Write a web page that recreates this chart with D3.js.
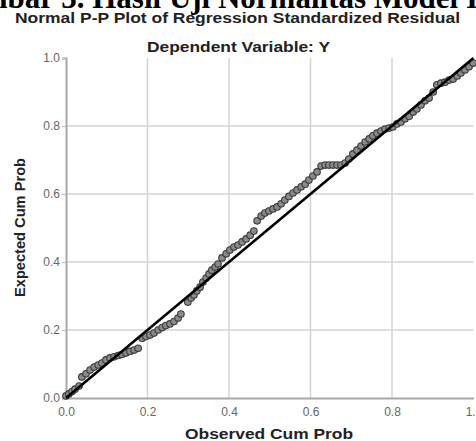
<!DOCTYPE html>
<html><head><meta charset="utf-8">
<script src="https://cdn.jsdelivr.net/npm/d3@7"></script>
<style>body{margin:0;background:#fff}svg{display:block}</style>
</head><body>
<script>
const heading = "Gambar 3. Hasil Uji Normalitas Model I";
const title = "Normal P-P Plot of Regression Standardized Residual";
const subtitle = "Dependent Variable: Y";
const xLabel = "Observed Cum Prob";
const yLabel = "Expected Cum Prob";
const ticks = [0, 0.2, 0.4, 0.6, 0.8, 1.0];
const observed = [0.000,0.007,0.015,0.022,0.032,0.039,0.049,0.059,0.069,0.079,0.088,0.098,0.108,0.118,0.128,0.137,0.147,0.157,0.167,0.177,
0.187,0.196,0.206,0.216,0.226,0.236,0.245,0.255,0.265,0.275,0.282,0.299,0.307,0.314,0.321,0.329,0.336,0.344,0.351,0.358,
0.366,0.373,0.383,0.393,0.402,0.412,0.422,0.432,0.442,0.452,0.461,0.469,0.479,0.488,0.498,0.508,0.518,0.528,0.537,0.547,
0.557,0.567,0.577,0.587,0.596,0.606,0.616,0.626,0.636,0.645,0.655,0.665,0.675,0.685,0.694,0.704,0.714,0.724,0.734,0.744,
0.753,0.763,0.773,0.783,0.793,0.802,0.812,0.822,0.832,0.842,0.852,0.861,0.871,0.881,0.891,0.901,0.910,0.920,0.930,0.940,
0.950,0.960,0.969,0.979,0.989,0.999];
const expected = [0.006,0.012,0.019,0.026,0.035,0.062,0.071,0.082,0.091,0.097,0.103,0.112,0.118,0.121,0.125,0.128,0.132,0.137,0.141,0.146,
0.176,0.181,0.185,0.191,0.200,0.207,0.213,0.218,0.225,0.235,0.247,0.282,0.294,0.303,0.315,0.326,0.341,0.353,0.365,0.376,
0.385,0.394,0.412,0.424,0.435,0.444,0.450,0.459,0.468,0.479,0.491,0.521,0.535,0.544,0.550,0.556,0.562,0.571,0.582,0.593,
0.603,0.612,0.621,0.629,0.641,0.653,0.665,0.682,0.685,0.685,0.685,0.685,0.685,0.691,0.703,0.718,0.729,0.741,0.753,0.762,
0.771,0.779,0.785,0.791,0.794,0.797,0.806,0.812,0.821,0.829,0.841,0.850,0.862,0.874,0.882,0.900,0.921,0.926,0.929,0.935,
0.938,0.947,0.956,0.965,0.974,0.985];
const refLine = [[0,0],[1,1]];

const W = 476, H = 441;
const svg = d3.select("body").append("svg").attr("width", W).attr("height", H);
const x = d3.scaleLinear().domain([0,1]).range([66, 473.5]);
const y = d3.scaleLinear().domain([0,1]).range([398, 58]);
const sans = "Liberation Sans, Arial, sans-serif";

// heading (cut off at top)
svg.append("text").attr("x", 478).attr("y", 8).attr("text-anchor","end")
  .attr("font-family","Liberation Serif, Times New Roman, serif").attr("font-weight","bold")
  .attr("font-size", 31).attr("fill","#000").text(heading);

svg.append("text").attr("x", 15).attr("y", 23)
  .attr("font-family",sans).attr("font-weight","bold")
  .attr("font-size", 14).attr("fill","#222")
  .attr("textLength", 445).attr("lengthAdjust","spacingAndGlyphs").text(title);

svg.append("text").attr("x", 147).attr("y", 52)
  .attr("font-family",sans).attr("font-weight","bold")
  .attr("font-size", 14).attr("fill","#222")
  .attr("textLength", 183).attr("lengthAdjust","spacingAndGlyphs").text(subtitle);

// grid
const g = svg.append("g");
g.selectAll("line.vx").data(ticks.filter(t=>t>0 && t<1)).join("line")
  .attr("x1", d=>x(d)).attr("x2", d=>x(d)).attr("y1", y(1)).attr("y2", y(0))
  .attr("stroke","#d4d4d4").attr("stroke-width",1.5);
g.selectAll("line.hy").data(ticks.filter(t=>t>0 && t<1)).join("line")
  .attr("class","hy")
  .attr("y1", d=>y(d)).attr("y2", d=>y(d)).attr("x1", x(0)).attr("x2", x(1))
  .attr("stroke","#d4d4d4").attr("stroke-width",1.5);

// axes
const xAxis = d3.axisBottom(x).tickValues(ticks).tickFormat(d3.format(".1f")).tickSize(0).tickPadding(9);
const yAxis = d3.axisLeft(y).tickValues(ticks).tickFormat(d3.format(".1f")).tickSize(4).tickPadding(2);
const xa = svg.append("g").attr("transform",`translate(0,${y(0)})`).call(xAxis);
const ya = svg.append("g").attr("transform",`translate(${x(0)},0)`).call(yAxis);
[xa, ya].forEach(a => {
  a.select(".domain").attr("stroke","#a8a8a8").attr("stroke-width",2);
  a.selectAll(".tick line").attr("stroke","#bbb");
  a.selectAll("text").attr("font-family",sans)
    .attr("font-size", 12).attr("fill","#666");
});

// axis titles
svg.append("text").attr("x", 185).attr("y", 439)
  .attr("font-family",sans).attr("font-weight","bold")
  .attr("font-size", 14).attr("fill","#222")
  .attr("textLength", 168).attr("lengthAdjust","spacingAndGlyphs").text(xLabel);
svg.append("text").attr("transform",`translate(25,297) rotate(-90)`)
  .attr("font-family",sans).attr("font-weight","bold")
  .attr("font-size", 14).attr("fill","#222")
  .attr("textLength", 139).attr("lengthAdjust","spacingAndGlyphs").text(yLabel);

// points
svg.append("g").selectAll("circle").data(observed.map((o,i)=>[o, expected[i]])).join("circle")
  .attr("cx", d=>x(d[0])).attr("cy", d=>y(d[1])).attr("r", 3.3)
  .attr("fill","#8a8a8a").attr("stroke","#3c3c3c").attr("stroke-width",1.1);

// reference line
svg.append("path").datum(refLine)
  .attr("d", d3.line().x(d=>x(d[0])).y(d=>y(d[1])))
  .attr("stroke","#000").attr("stroke-width",2.6).attr("fill","none");
</script>
</body></html>
